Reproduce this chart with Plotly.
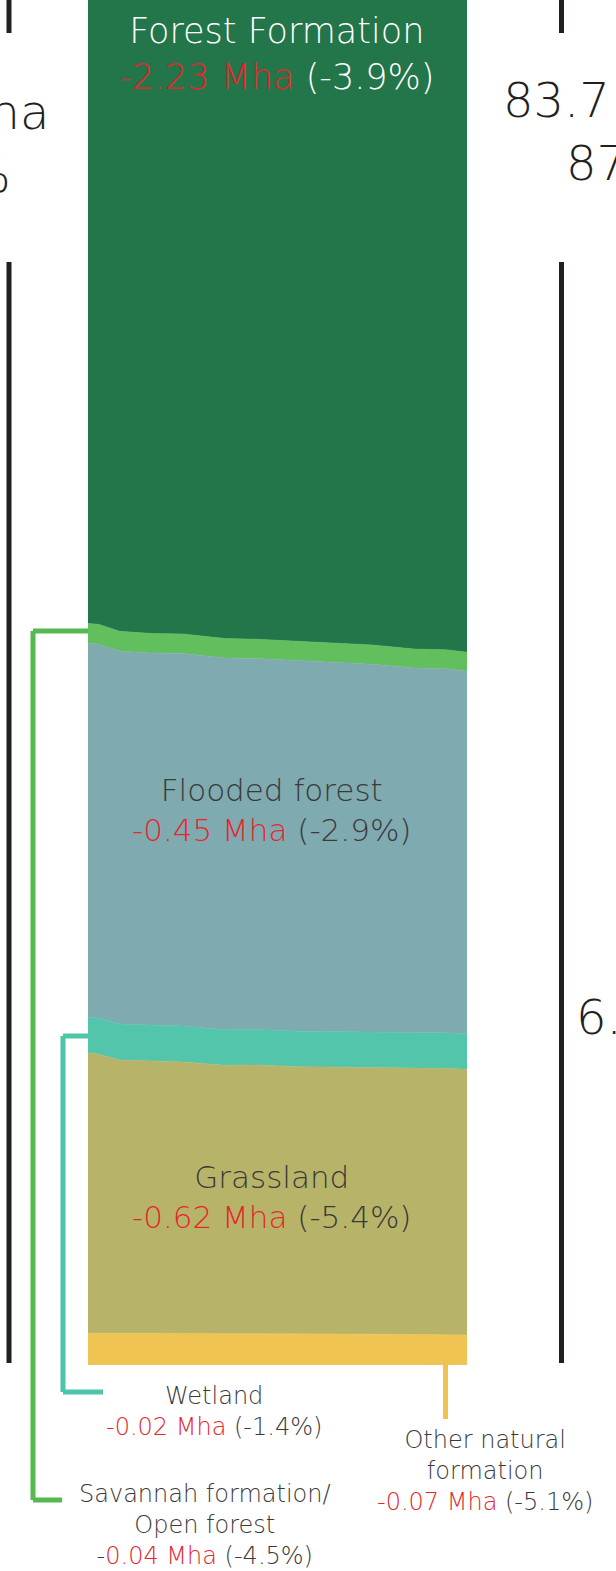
import plotly.graph_objects as go

# Native vegetation area by class (Mha), stacked from the bottom up
years = [1985, 1986, 1988, 1991, 1994, 1998, 2001, 2005, 2009, 2012, 2016, 2019, 2021]
other_natural = [1.32, 1.32, 1.32, 1.31, 1.31, 1.31, 1.30, 1.30, 1.29, 1.28, 1.26, 1.25, 1.25]
grassland = [11.69, 11.63, 11.39, 11.36, 11.32, 11.18, 11.20, 11.13, 11.11, 11.11, 11.11, 11.11, 11.07]
wetland = [1.50, 1.50, 1.50, 1.49, 1.49, 1.48, 1.48, 1.48, 1.48, 1.48, 1.48, 1.48, 1.48]
flooded_forest = [15.56, 15.58, 15.54, 15.51, 15.53, 15.49, 15.46, 15.45, 15.40, 15.33, 15.19, 15.17, 15.11]
savannah = [0.83, 0.83, 0.82, 0.81, 0.81, 0.81, 0.80, 0.80, 0.80, 0.80, 0.79, 0.79, 0.79]
forest = [56.20, 56.15, 56.05, 55.90, 55.75, 55.45, 55.25, 54.95, 54.70, 54.50, 54.25, 54.10, 53.97]

W, H = 616, 1571
RED = "#e5262d"
GRAY = "#3a3a3a"
FONT = "DejaVu Sans"

layers = [
    ("Other natural formation", other_natural, "#f0c452"),
    ("Grassland", grassland, "#b7b46a"),
    ("Wetland", wetland, "#53c5ab"),
    ("Flooded forest", flooded_forest, "#7eaab0"),
    ("Savannah formation/Open forest", savannah, "#62bf5e"),
    ("Forest Formation", forest, "#23754a"),
]

fig = go.Figure()
for name, vals, col in layers:
    fig.add_trace(go.Scatter(
        x=years, y=vals, name=name, stackgroup="veg", mode="lines",
        line=dict(width=0.6, color=col), fillcolor=col, hoverinfo="skip",
    ))


def px(x):
    return x / W


def py(y):
    return 1 - y / H


shapes = []


def seg(x0, y0, x1, y1, color, width=5):
    shapes.append(dict(type="line", xref="paper", yref="paper",
                       x0=px(x0), y0=py(y0), x1=px(x1), y1=py(y1),
                       line=dict(color=color, width=width)))


# scale bars at both sides
for xb in (9, 561.5):
    seg(xb, 0, xb, 33, "#231f20")
    seg(xb, 262, xb, 1363, "#231f20")

# leader lines for the thin classes
seg(33, 631, 88, 631, "#55b94f")
seg(33, 631, 33, 1500, "#55b94f")
seg(33, 1500, 62, 1500, "#55b94f")
seg(63, 1036, 88, 1036, "#4cc5a8")
seg(63, 1036, 63, 1392, "#4cc5a8")
seg(63, 1392, 103, 1392, "#4cc5a8")
seg(445.5, 1357, 445.5, 1419, "#f0c350")

annotations = []


def label(x, y, text, size, color=GRAY, xanchor="center"):
    annotations.append(dict(
        x=px(x), y=py(y), xref="paper", yref="paper", text=text,
        showarrow=False, xanchor=xanchor, yanchor="middle", align="center",
        font=dict(family=FONT, size=size, color=color, weight=200),
    ))


def red(t):
    return f"<span style='color:{RED}'>{t}</span>"


label(277, 54, "Forest Formation<br>" + red("-2.23 Mha") + " (-3.9%)", 35, "white")
label(271, 810, "Flooded forest<br>" + red("-0.45 Mha") + " (-2.9%)", 31)
label(271, 1197, "Grassland<br>" + red("-0.62 Mha") + " (-5.4%)", 31)
label(214, 1411, "Wetland<br>" + red("-0.02 Mha") + " (-1.4%)", 24)
label(205, 1525, "Savannah formation/<br>Open forest<br>-" + red("0.04 Mha") + " (-4.5%)", 24)
label(485, 1471, "Other natural<br>formation<br>" + red("-0.07 Mha") + " (-5.1%)", 24)

# totals at both ends
label(51, 112, "87.1 Mha", 48, "#231f20", "right")
label(12, 175, "90.8%", 48, "#231f20", "right")
label(501, 100, "83.7 Mha", 48, "#231f20", "left")
label(564, 163, "87.3%", 48, "#231f20", "left")
label(574, 1017, "6.1 Mha", 48, "#231f20", "left")

ppy = 379 / 36  # pixels per year
fig.update_layout(
    width=W, height=H, margin=dict(l=0, r=0, t=0, b=0),
    paper_bgcolor="white", plot_bgcolor="white", showlegend=False,
    xaxis=dict(range=[1985 - 88 / ppy, 1985 + (W - 88) / ppy], visible=False, fixedrange=True),
    yaxis=dict(range=[-(H - 1365) / 24, 1365 / 24], visible=False, fixedrange=True),
    shapes=shapes, annotations=annotations,
)

fig.write_html("out.html", config={"displayModeBar": False})
